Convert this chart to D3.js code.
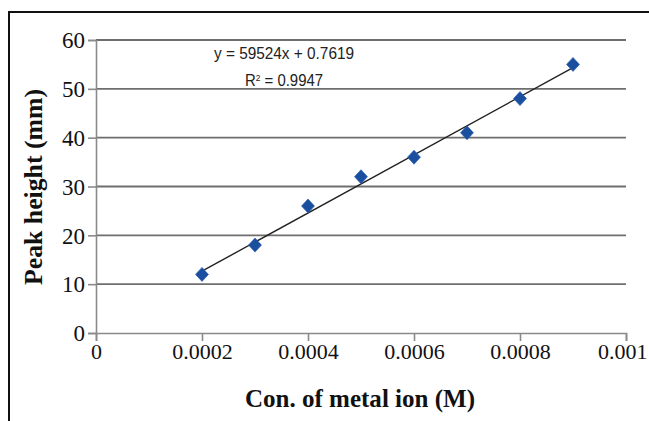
<!DOCTYPE html>
<html>
<head>
<meta charset="utf-8">
<script src="https://cdn.jsdelivr.net/npm/d3@7"></script>
<style>
  html, body { margin: 0; padding: 0; background: #fff; }
  svg { display: block; }
</style>
</head>
<body>
<svg id="chart" width="649" height="421"></svg>
<script>
// Calibration data: metal ion concentration vs. peak height
const concentrations = [0.0002, 0.0003, 0.0004, 0.0005, 0.0006, 0.0007, 0.0008, 0.0009];
const peakHeights = [12, 18, 26, 32, 36, 41, 48, 55];

// Linear fit reported on the chart
const fitSlope = 59524;
const fitIntercept = 0.7619;
const fitR2 = 0.9947;

const xTicks = [0, 0.0002, 0.0004, 0.0006, 0.0008, 0.001];
const xTickLabels = ["0", "0.0002", "0.0004", "0.0006", "0.0008", "0.001"];
const yTicks = [0, 10, 20, 30, 40, 50, 60];

const svg = d3.select("#chart");
const W = 649, H = 421;
const plot = { left: 96, right: 626, top: 40, bottom: 333 };

const x = d3.scaleLinear().domain([0, 0.001]).range([plot.left, plot.right]);
const y = d3.scaleLinear().domain([0, 60]).range([plot.bottom, plot.top]);

const serif = "'Liberation Serif', 'Times New Roman', serif";
const narrow = "'Liberation Sans Narrow', 'Arial Narrow', 'Liberation Sans', sans-serif";

// Outer frame (left and top edges)
svg.append("path")
  .attr("d", `M9,${H} L9,12 L${W},12`)
  .attr("fill", "none")
  .attr("stroke", "#111")
  .attr("stroke-width", 2);

// Horizontal gridlines
svg.append("g")
  .selectAll("line")
  .data(yTicks.filter(t => t > 0))
  .join("line")
  .attr("x1", plot.left)
  .attr("x2", plot.right)
  .attr("y1", d => y(d))
  .attr("y2", d => y(d))
  .attr("stroke", "#6e6e6e")
  .attr("stroke-width", 1.8);

// Y axis
const yAxis = d3.axisLeft(y).tickValues(yTicks).tickSize(8).tickFormat(d3.format("d"));
const gy = svg.append("g").attr("transform", `translate(${plot.left},0)`).call(yAxis);
gy.select(".domain").attr("stroke", "#8a8a8a").attr("stroke-width", 1.6);
gy.selectAll(".tick line").attr("stroke", "#8a8a8a").attr("stroke-width", 1.6);
gy.selectAll(".tick text")
  .attr("x", -11)
  .attr("dy", "0.34em")
  .attr("fill", "#111")
  .style("font-family", serif)
  .style("font-size", "23px");

// X axis
const xAxis = d3.axisBottom(x).tickValues(xTicks).tickSize(8)
  .tickFormat((d, i) => xTickLabels[i]);
const gx = svg.append("g").attr("transform", `translate(0,${plot.bottom})`).call(xAxis);
gx.select(".domain").attr("stroke", "#8a8a8a").attr("stroke-width", 1.6);
gx.selectAll(".tick line").attr("stroke", "#8a8a8a").attr("stroke-width", 1.6);
gx.selectAll(".tick text")
  .attr("y", 26)
  .attr("dy", 0)
  .attr("fill", "#111")
  .style("font-family", serif)
  .style("font-size", "22px");
// keep the last label inside the frame
gx.selectAll(".tick text").filter(d => d === 0.001)
  .attr("text-anchor", "end")
  .attr("x", 21);

// Trend line over the measured range
const xExt = d3.extent(concentrations);
svg.append("line")
  .attr("x1", x(xExt[0]))
  .attr("y1", y(fitSlope * xExt[0] + fitIntercept))
  .attr("x2", x(xExt[1]))
  .attr("y2", y(fitSlope * xExt[1] + fitIntercept))
  .attr("stroke", "#222")
  .attr("stroke-width", 1.4);

// Diamond markers
const diamond = d3.symbol().type(d3.symbolSquare).size(84);
svg.append("g")
  .selectAll("path")
  .data(concentrations.map((c, i) => [c, peakHeights[i]]))
  .join("path")
  .attr("d", diamond)
  .attr("transform", d => `translate(${x(d[0])},${y(d[1])}) scale(1,1.08) rotate(45)`)
  .attr("fill", "#1a4fa0")
  .attr("stroke", "#2a5cb0")
  .attr("stroke-width", 0.6);

// Regression equation
const eqX = 284;
svg.append("text")
  .attr("x", eqX).attr("y", 59)
  .attr("text-anchor", "middle")
  .attr("textLength", 140).attr("lengthAdjust", "spacingAndGlyphs")
  .style("font-family", narrow).style("font-size", "16px").attr("fill", "#222")
  .text(`y = ${fitSlope}x + ${fitIntercept}`);
const r2 = svg.append("text")
  .attr("x", eqX).attr("y", 86)
  .attr("text-anchor", "middle")
  .attr("textLength", 78).attr("lengthAdjust", "spacingAndGlyphs")
  .style("font-family", narrow).style("font-size", "16px").attr("fill", "#222");
r2.append("tspan").text("R");
r2.append("tspan").attr("dy", -5).style("font-size", "9px").text("2");
r2.append("tspan").attr("dy", 5).text(` = ${fitR2}`);

// Axis titles
svg.append("text")
  .attr("x", 360).attr("y", 407)
  .attr("text-anchor", "middle")
  .attr("textLength", 230).attr("lengthAdjust", "spacingAndGlyphs")
  .style("font-family", serif).style("font-size", "25px").style("font-weight", "bold")
  .attr("fill", "#111")
  .text("Con. of metal ion (M)");

svg.append("text")
  .attr("transform", "translate(42,187) rotate(-90)")
  .attr("text-anchor", "middle")
  .attr("textLength", 196).attr("lengthAdjust", "spacingAndGlyphs")
  .style("font-family", serif).style("font-size", "25px").style("font-weight", "bold")
  .attr("fill", "#111")
  .text("Peak height (mm)");
</script>
</body>
</html>
